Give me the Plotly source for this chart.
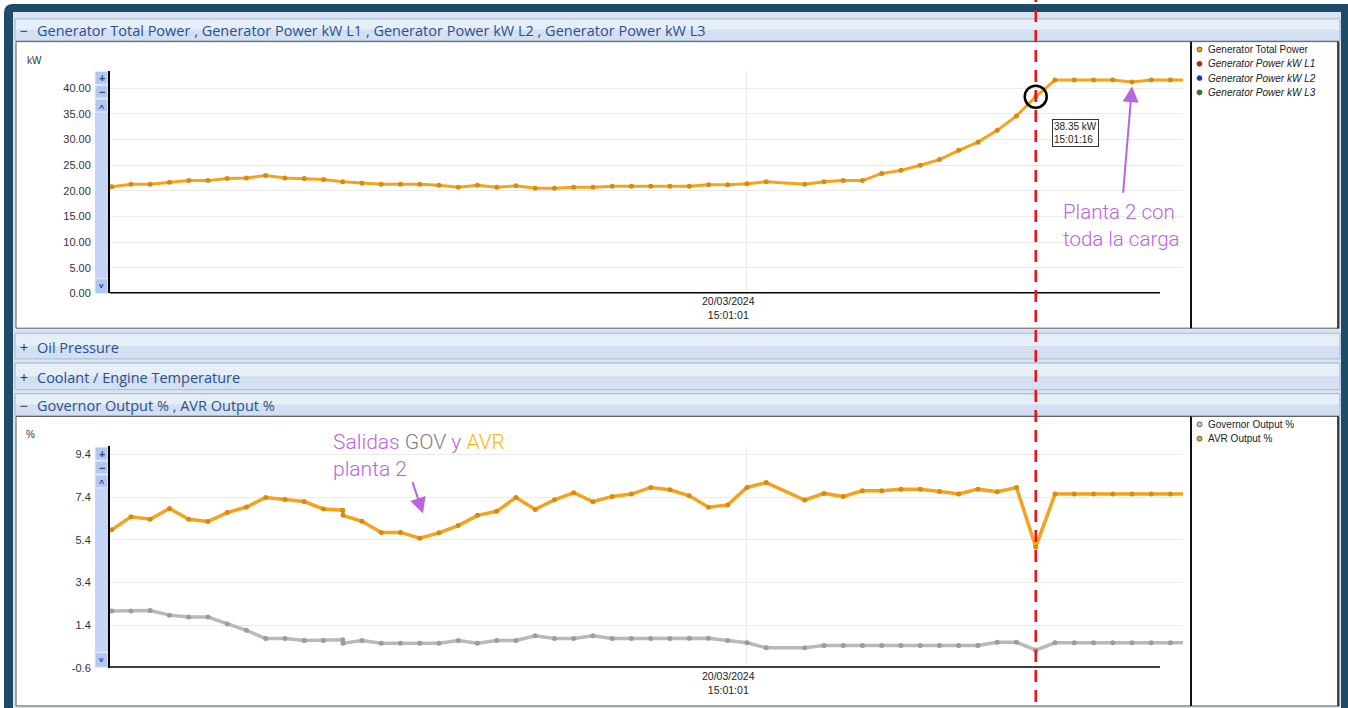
import plotly.graph_objects as go
import pandas as pd

W, H = 1348, 708

# ---------------- data ----------------
BASE_TIME = "2024-03-20 15:00:28"
DATE_LABEL = "20/03/2024<br>15:01:01"
GRID_SECOND = 33          # 15:01:01
CURSOR_SECOND = 48        # 15:01:16
CURSOR_KW = 38.35

top_seconds = [0, 1, 2, 3, 4, 5, 6, 7, 8, 9, 10, 11, 12, 13, 14, 15, 16, 17, 18, 19,
               20, 21, 22, 23, 24, 25, 26, 27, 28, 29, 30, 31, 32, 33, 34,
               36, 37, 38, 39, 40, 41, 42, 43, 44, 45, 46, 47, 48, 49, 50, 51, 52, 53, 54, 55, 56]
generator_total_kw = [20.8, 21.3, 21.3, 21.7, 22.0, 22.0, 22.4, 22.5, 23.0, 22.5,
                      22.4, 22.2, 21.8, 21.5, 21.3, 21.3, 21.3, 21.1, 20.7, 21.1,
                      20.7, 21.0, 20.5, 20.5, 20.7, 20.7, 20.9, 20.9, 20.9, 20.9,
                      20.9, 21.2, 21.2, 21.4, 21.8,
                      21.3, 21.8, 22.0, 22.0, 23.4, 24.0, 25.0, 26.1, 27.9, 29.5,
                      31.8, 34.6, 38.35, 41.6, 41.6, 41.6, 41.6, 41.2, 41.6, 41.6, 41.6]

bottom_seconds = [0, 1, 2, 3, 4, 5, 6, 7, 8, 9, 10, 11, 12, 12.02, 13, 14, 15, 16, 17, 18, 19,
                  20, 21, 22, 23, 24, 25, 26, 27, 28, 29, 30, 31, 32, 33, 34,
                  36, 37, 38, 39, 40, 41, 42, 43, 44, 45, 46, 47, 48, 49, 50, 51, 52, 53, 54, 55, 56]
governor_pct = [2.07, 2.07, 2.09, 1.87, 1.78, 1.78, 1.46, 1.16, 0.77, 0.77, 0.68, 0.68,
                0.71, 0.55, 0.68, 0.55, 0.55, 0.55, 0.55, 0.68, 0.55,
                0.68, 0.68, 0.90, 0.77, 0.77, 0.90, 0.78, 0.78, 0.78, 0.78, 0.79, 0.79, 0.68, 0.57, 0.34,
                0.34, 0.45, 0.45, 0.45, 0.45, 0.45, 0.45, 0.45, 0.45, 0.45, 0.60, 0.60, 0.23,
                0.57, 0.57, 0.57, 0.57, 0.57, 0.57, 0.57, 0.57]
avr_pct = [5.87, 6.48, 6.37, 6.87, 6.37, 6.26, 6.68, 6.94, 7.39, 7.30, 7.20, 6.85,
           6.79, 6.55, 6.27, 5.75, 5.75, 5.48, 5.73, 6.07, 6.55,
           6.74, 7.39, 6.83, 7.28, 7.61, 7.19, 7.44, 7.55, 7.86, 7.75, 7.47, 6.93, 7.04, 7.86, 8.09,
           7.27, 7.58, 7.44, 7.70, 7.70, 7.78, 7.78, 7.67, 7.55, 7.78, 7.66, 7.86, 5.07,
           7.55, 7.55, 7.55, 7.55, 7.55, 7.55, 7.55, 7.55]

kw_ticks = [0, 5, 10, 15, 20, 25, 30, 35, 40]
kw_ticklabels = ["0.00", "5.00", "10.00", "15.00", "20.00", "25.00", "30.00", "35.00", "40.00"]
pct_ticks = [-0.6, 1.4, 3.4, 5.4, 7.4, 9.4]
pct_ticklabels = ["-0.6", "1.4", "3.4", "5.4", "7.4", "9.4"]

top_title = "Generator Total Power , Generator Power kW L1 , Generator Power kW L2 , Generator Power kW L3"
top_legend = [("Generator Total Power", "#F0A21E", False),
              ("Generator Power kW L1", "#D01818", True),
              ("Generator Power kW L2", "#1830D0", True),
              ("Generator Power kW L3", "#148A14", True)]
bottom_legend = [("Governor Output %", "#C8C8C8"), ("AVR Output %", "#F0A21E")]

# ---------------- helpers ----------------
base = pd.Timestamp(BASE_TIME)


def tstr(s):
    ts = base + pd.Timedelta(seconds=s)
    return ts.strftime('%Y-%m-%d %H:%M:%S.') + f"{ts.microsecond // 1000:03d}"


def px(x):
    return x / W


def py(y):
    return 1 - y / H


FONT = "Liberation Sans, Arial, sans-serif"
UIFONT = "Open Sans, Noto Sans, sans-serif"
NOTEFONT = "Roboto, Liberation Sans, sans-serif"
ORANGE = "#F5A31C"
ORANGE_DK = "#D98A0E"
GRAY = "#B9B9B9"
GRAY_DK = "#9C9C9C"
PURPLE = "#B866DE"

shapes = []
annotations = []


def rect(x0, y0, x1, y1, fill, line=None, lw=1, layer='below'):
    shapes.append(dict(type='rect', xref='paper', yref='paper',
                       x0=px(x0), x1=px(x1), y0=py(y1), y1=py(y0),
                       fillcolor=fill,
                       line=dict(color=line if line else 'rgba(0,0,0,0)', width=lw if line else 0),
                       layer=layer))


def vline(x, y0, y1, color, width, layer='below'):
    shapes.append(dict(type='line', xref='paper', yref='paper', x0=px(x), x1=px(x),
                       y0=py(y0), y1=py(y1), line=dict(color=color, width=width), layer=layer))


def ann(x, y, text, size=10, color='#222', xanchor='left', yanchor='middle', family=FONT, **kw):
    d = dict(xref='paper', yref='paper', x=px(x), y=py(y), text=text, showarrow=False,
             xanchor=xanchor, yanchor=yanchor, font=dict(size=size, color=color, family=family))
    d.update(kw)
    annotations.append(d)


# ---------------- frame & panels ----------------
shapes.append(dict(type='path', xref='paper', yref='paper',
                   path=f"M {px(4)},{py(720)} L {px(4)},{py(13)} Q {px(4)},{py(4)} {px(13)},{py(4)} "
                        f"L {px(1360)},{py(4)} L {px(1360)},{py(720)} Z",
                   fillcolor="#1E4B68", line=dict(width=0), layer='below'))
rect(13, 12, 1341, 720, "#DCE5EF")


def header(y0, y1, sign, text):
    rect(15, y0, 1340, y1, "#D3E0F1", "#A9BCD5", 1)
    rect(16, y0 + 1, 1339, (y0 + y1) / 2, "#E6EEF8")
    ym = (y0 + y1) / 2 + 1
    ann(24, ym, sign, size=14, color="#333", xanchor='center', family=UIFONT)
    ann(35, ym, text, size=14.5, color="#2C4F8E", family=UIFONT)


header(19, 41, "−", top_title)
header(336, 362, "+", "Oil Pressure")
header(366, 393, "+", "Coolant / Engine Temperature")
header(397, 419, "−", "Governor Output % , AVR Output %")

# chart areas
rect(16, 42, 1339, 331, "white", "#5A5A5A", 1)
rect(16, 420, 1339, 712, "white", "#5A5A5A", 1)
vline(1191, 42, 331, "#111", 2)
vline(1191, 420, 712, "#111", 2)
vline(1338, 42, 331, "#111", 1.5)
vline(1338, 420, 712, "#111", 1.5)


def scrollbar(y0, y1):
    rect(95, y0, 108, y1, "#C4D5F7")
    bh = 13
    for i, g in enumerate(["+", "−", "^"]):
        yy = y0 + i * (bh + 1)
        rect(95, yy, 108, yy + bh, "#B3C8F0", "#E6EEFC", 1)
        ann(101.5, yy + bh / 2 + (2 if g == "^" else 0), f"<b>{g}</b>", size=11 if g != "^" else 9,
            color="#2F4C80", xanchor='center')
    rect(95, y1 - 15, 108, y1, "#B3C8F0", "#E6EEFC", 1)
    ann(101.5, y1 - 8, "<b>v</b>", size=8, color="#2F4C80", xanchor='center')


scrollbar(72, 296)
scrollbar(451, 673)

# unit labels
ann(25, 61, "kW", size=10, color="#333")
ann(24, 438, "%", size=10, color="#333")

# legends
for i, (name, col, ital) in enumerate(top_legend):
    yy = 50 + i * 14.4
    shapes.append(dict(type='circle', xref='paper', yref='paper', x0=px(1197), x1=px(1202),
                       y0=py(yy + 2.5), y1=py(yy - 2.5), fillcolor=col,
                       line=dict(color="#444", width=0.8), layer='above'))
    ann(1206, yy, f"<i>{name}</i>" if ital else name, size=10, color="#222")
for i, (name, col) in enumerate(bottom_legend):
    yy = 428 + i * 14.4
    shapes.append(dict(type='circle', xref='paper', yref='paper', x0=px(1197), x1=px(1202),
                       y0=py(yy + 2.5), y1=py(yy - 2.5), fillcolor=col,
                       line=dict(color="#444", width=0.8), layer='above'))
    ann(1206, yy, name, size=10, color="#222")

# ---------------- traces ----------------
fig = go.Figure()
fig.add_trace(go.Scatter(x=[tstr(s) for s in top_seconds], y=generator_total_kw,
                         mode='lines+markers', name="Generator Total Power",
                         line=dict(color=ORANGE, width=3),
                         marker=dict(color=ORANGE_DK, size=5),
                         xaxis='x', yaxis='y', hoverinfo='skip'))
fig.add_trace(go.Scatter(x=[tstr(s) for s in bottom_seconds], y=governor_pct,
                         mode='lines+markers', name="Governor Output %",
                         line=dict(color=GRAY, width=3.5),
                         marker=dict(color=GRAY_DK, size=5),
                         xaxis='x2', yaxis='y2', hoverinfo='skip'))
fig.add_trace(go.Scatter(x=[tstr(s) for s in bottom_seconds], y=avr_pct,
                         mode='lines+markers', name="AVR Output %",
                         line=dict(color=ORANGE, width=3.5),
                         marker=dict(color=ORANGE_DK, size=5),
                         xaxis='x2', yaxis='y2', hoverinfo='skip'))

# x range derived from pixel layout
x_range = [tstr(-0.088), tstr(55.65)]
xdom = [px(110), px(1183)]

# axis baselines
shapes.append(dict(type='line', xref='paper', yref='y', x0=px(110), x1=px(1160), y0=0, y1=0,
                   line=dict(color='black', width=3), layer='above'))
shapes.append(dict(type='line', xref='paper', yref='y2', x0=px(110), x1=px(1160), y0=-0.6, y1=-0.6,
                   line=dict(color='black', width=3), layer='above'))

# date labels
annotations.append(dict(xref='x', yref='paper', x=tstr(GRID_SECOND), y=py(311), xshift=-18,
                        text=DATE_LABEL, showarrow=False, xanchor='center', yanchor='middle',
                        font=dict(size=10.5, color='#222', family=FONT)))
annotations.append(dict(xref='x2', yref='paper', x=tstr(GRID_SECOND), y=py(689), xshift=-18,
                        text=DATE_LABEL, showarrow=False, xanchor='center', yanchor='middle',
                        font=dict(size=10.5, color='#222', family=FONT)))

# cursor: red dashed line, circle, tooltip
shapes.append(dict(type='line', xref='x', yref='paper', x0=tstr(CURSOR_SECOND), x1=tstr(CURSOR_SECOND),
                   y0=0, y1=1, line=dict(color='#F01010', width=2.5, dash='12px,8px'), layer='above'))
shapes.append(dict(type='circle', xref='x', yref='y', xsizemode='pixel', ysizemode='pixel',
                   xanchor=tstr(CURSOR_SECOND), yanchor=CURSOR_KW, x0=-11, x1=11, y0=-11, y1=11,
                   line=dict(color='black', width=2.5), fillcolor='rgba(0,0,0,0)', layer='above'))
annotations.append(dict(xref='x', yref='y', x=tstr(CURSOR_SECOND), y=CURSOR_KW, xshift=16, yshift=-22,
                        text=f"{CURSOR_KW:.2f} kW<br>15:01:16", showarrow=False, xanchor='left',
                        yanchor='top', align='left', bgcolor='white', bordercolor='#333',
                        borderwidth=1, borderpad=1, font=dict(size=10, color='#222', family=FONT)))

# purple notes
annotations.append(dict(xref='paper', yref='paper', x=px(1061), y=py(200), xanchor='left', yanchor='top',
                        align='left', text="Planta 2 con<br>toda la carga", showarrow=False,
                        font=dict(size=20.5, color=PURPLE, family=NOTEFONT, weight=300)))
annotations.append(dict(xref='x', yref='y', x=tstr(53), y=40.4, ax=-9, ay=108, axref='pixel', ayref='pixel',
                        text="", showarrow=True, arrowhead=2, arrowsize=1.6, arrowwidth=2,
                        arrowcolor=PURPLE, standoff=0))
annotations.append(dict(xref='paper', yref='paper', x=px(331), y=py(432), xanchor='left', yanchor='top',
                        align='left',
                        text="Salidas <span style='color:#808080'>GOV</span> y "
                             "<span style='color:#F5B800'>AVR</span><br>planta 2",
                        showarrow=False,
                        font=dict(size=21, color=PURPLE, family=NOTEFONT, weight=300)))
annotations.append(dict(xref='paper', yref='paper', x=px(423), y=py(518), ax=-11, ay=-33,
                        text="", showarrow=True, arrowhead=2, arrowsize=1.6, arrowwidth=2,
                        arrowcolor=PURPLE, standoff=0))

axis_common = dict(showgrid=True, gridcolor="#EBEBEB", gridwidth=1, zeroline=False)
fig.update_layout(
    width=W, height=H, margin=dict(l=0, r=0, t=0, b=0),
    paper_bgcolor='white', plot_bgcolor='rgba(0,0,0,0)', showlegend=False,
    xaxis=dict(domain=xdom, anchor='y', type='date', range=x_range, tickvals=[tstr(GRID_SECOND)],
               showticklabels=False, ticks='', showline=False, **axis_common),
    yaxis=dict(domain=[py(296), py(72)], anchor='x', range=[0, 43.29], tickvals=kw_ticks,
               ticktext=kw_ticklabels, ticks='', ticklabelstandoff=15, showline=True,
               linecolor='black', linewidth=2,
               tickfont=dict(size=11, color='#333', family=FONT), **axis_common),
    xaxis2=dict(domain=xdom, anchor='y2', type='date', range=x_range, tickvals=[tstr(GRID_SECOND)],
                showticklabels=False, ticks='', showline=False, **axis_common),
    yaxis2=dict(domain=[py(673.5), py(450)], anchor='x2', range=[-0.6, 9.795], tickvals=pct_ticks,
                ticktext=pct_ticklabels, ticks='', ticklabelstandoff=15, showline=True,
                linecolor='black', linewidth=2,
                tickfont=dict(size=11, color='#333', family=FONT), **axis_common),
    shapes=shapes, annotations=annotations,
)

fig.write_html(
    "out.html",
    config={"displayModeBar": False, "responsive": False},
    post_script=("document.documentElement.style.overflow='hidden';"
                 "document.body.style.margin='0';document.body.style.overflow='hidden';"
                 "var d=document.getElementById('{plot_id}');"
                 "d.style.position='fixed';d.style.left='0px';d.style.top='0px';"
                 "var vw=document.documentElement.clientWidth||window.innerWidth;"
                 "var vh=document.documentElement.clientHeight||window.innerHeight;"
                 "if(vw>0&&vh>0&&(vw!==" + str(W) + "||vh!==" + str(H) + ")){"
                 "d.style.width=vw+'px';d.style.height=vh+'px';"
                 "Plotly.relayout(d,{width:vw,height:vh});}"),
)
